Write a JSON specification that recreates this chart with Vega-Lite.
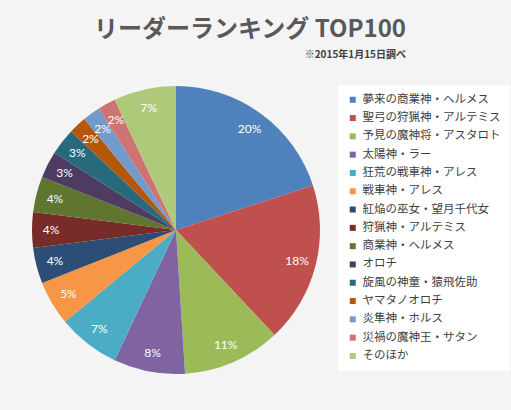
{
  "$schema": "https://vega.github.io/schema/vega-lite/v6.json",
  "autosize": {"type": "none"},
  "padding": {"left": 0, "top": 80, "right": 159, "bottom": 30},
  "width": 352,
  "height": 300,
  "background": "#F4F4F4",
  "view": {"stroke": null},
  "title": {
    "text": "リーダーランキング TOP100",
    "subtitle": "※2015年1月15日調べ",
    "anchor": "end",
    "frame": "group",
    "dx": 54,
    "offset": 20,
    "font": "Noto Sans CJK JP",
    "fontSize": 24,
    "fontWeight": "bold",
    "color": "#595959",
    "subtitleFont": "Noto Sans CJK JP",
    "subtitleFontSize": 10,
    "subtitleFontWeight": "bold",
    "subtitleColor": "#404040",
    "subtitlePadding": 8
  },
  "data": {
    "values": [
      {"rank": 1, "name": "夢来の商業神・ヘルメス", "share": 0.20},
      {"rank": 2, "name": "聖弓の狩猟神・アルテミス", "share": 0.18},
      {"rank": 3, "name": "予見の魔神将・アスタロト", "share": 0.11},
      {"rank": 4, "name": "太陽神・ラー", "share": 0.08},
      {"rank": 5, "name": "狂荒の戦車神・アレス", "share": 0.07},
      {"rank": 6, "name": "戦車神・アレス", "share": 0.05},
      {"rank": 7, "name": "紅焔の巫女・望月千代女", "share": 0.04},
      {"rank": 8, "name": "狩猟神・アルテミス", "share": 0.04},
      {"rank": 9, "name": "商業神・ヘルメス", "share": 0.04},
      {"rank": 10, "name": "オロチ", "share": 0.03},
      {"rank": 11, "name": "旋風の神童・猿飛佐助", "share": 0.03},
      {"rank": 12, "name": "ヤマタノオロチ", "share": 0.02},
      {"rank": 13, "name": "炎隼神・ホルス", "share": 0.02},
      {"rank": 14, "name": "災禍の魔神王・サタン", "share": 0.02},
      {"rank": 15, "name": "そのほか", "share": 0.07}
    ]
  },
  "encoding": {
    "theta": {"field": "share", "type": "quantitative", "stack": true},
    "order": {"field": "rank", "type": "quantitative"}
  },
  "layer": [
    {
      "mark": {"type": "arc", "outerRadius": 144},
      "encoding": {
        "color": {
          "field": "name",
          "type": "nominal",
          "scale": {
            "domain": ["夢来の商業神・ヘルメス", "聖弓の狩猟神・アルテミス", "予見の魔神将・アスタロト", "太陽神・ラー", "狂荒の戦車神・アレス", "戦車神・アレス", "紅焔の巫女・望月千代女", "狩猟神・アルテミス", "商業神・ヘルメス", "オロチ", "旋風の神童・猿飛佐助", "ヤマタノオロチ", "炎隼神・ホルス", "災禍の魔神王・サタン", "そのほか"],
            "range": ["#4F81BD", "#C0504D", "#9BBB59", "#8064A2", "#4BACC6", "#F79646", "#2C4D75", "#772C2A", "#5F7530", "#4D3B62", "#276A7C", "#B65708", "#729ACA", "#CD7371", "#AFC97A"]
          },
          "legend": {
            "orient": "none",
            "legendX": 338,
            "legendY": 5,
            "title": null,
            "fillColor": "white",
            "padding": 9,
            "symbolType": "square",
            "symbolSize": 36,
            "symbolStrokeWidth": 0,
            "labelFont": "Noto Sans CJK JP",
            "labelFontSize": 11.5,
            "labelColor": "#404040",
            "labelLimit": 200,
            "labelOffset": 4,
            "rowPadding": 5.3
          }
        }
      }
    },
    {
      "mark": {"type": "text", "radius": 125, "fill": "white", "font": "Lato", "fontSize": 12},
      "encoding": {
        "detail": {"field": "name", "type": "nominal"},
        "text": {"field": "share", "type": "quantitative", "format": ".0%"}
      }
    }
  ]
}
